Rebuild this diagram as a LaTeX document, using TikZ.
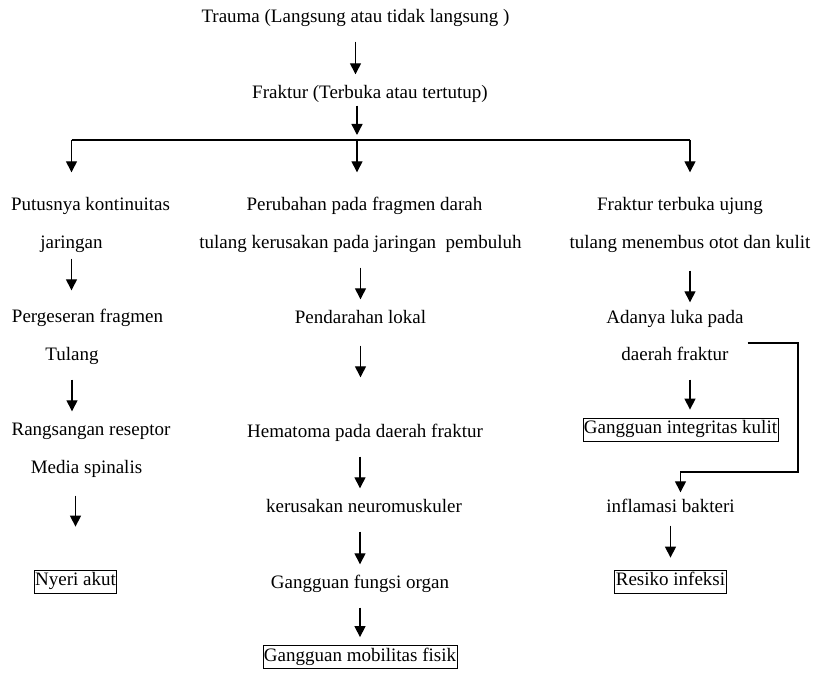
\documentclass[tikz,border=0pt]{standalone}
\usepackage{fontspec}
\setmainfont{Liberation Serif}
\usetikzlibrary{arrows.meta}
\tikzstyle{stage} =
        [
                text height = 13pt,
                text depth = 4pt,
                inner xsep = 1pt,
                inner ysep = 3pt
        ]
\tikzstyle{outcome} =
        [
                stage,
                draw,
                line width = 0.8pt
        ]
\tikzstyle{line} =
        [
                draw,
                line width = 1.4pt,
                -{Triangle[length = 11pt, width = 11pt]},
                shorten < = 12pt,
                shorten > = 8pt
        ]
\begin{document}
\begin{tikzpicture}[node distance = 38pt, font = \fontsize{19pt}{23pt}\selectfont]
        \useasboundingbox (0pt, 0pt) rectangle (815pt, 673pt);
        % tengah
        \node [stage] (trauma) at (355.5pt, 655pt) {Trauma (Langsung atau tidak langsung )};
        \node [stage, below of = trauma, node distance = 76pt, xshift = 14.5pt] (fraktur) {Fraktur (Terbuka atau tertutup)};
        \node [stage, below of = fraktur, node distance = 112pt, xshift = -5.5pt] (perubahan) {Perubahan pada fragmen darah};
        \node [stage, below of = perubahan, xshift = -4pt] (tulangk) {tulang kerusakan pada jaringan \ pembuluh};
        \node [stage, below of = tulangk, node distance = 75pt] (pendarahan) {Pendarahan lokal};
        \node [stage, below of = pendarahan, node distance = 114pt, xshift = 4.5pt] (hematoma) {Hematoma pada daerah fraktur};
        \node [stage, below of = hematoma, node distance = 75pt, xshift = -1pt] (kerusakan) {kerusakan neuromuskuler};
        \node [stage, below of = kerusakan, node distance = 76pt, xshift = -4pt] (fungsi) {Gangguan fungsi organ};
        \node [outcome, below of = fungsi, node distance = 73pt] (mobilitas) {Gangguan mobilitas fisik};
        % kiri
        \node [stage, left of = perubahan, node distance = 274pt] (putus) {Putusnya kontinuitas};
        \node [stage, below of = putus, xshift = -19pt] (jaringan) {jaringan};
        \node [stage, below of = jaringan, node distance = 74pt, xshift = 16pt] (pergeseran) {Pergeseran fragmen};
        \node [stage, below of = pergeseran, xshift = -15.5pt] (tulang) {Tulang};
        \node [stage, below of = tulang, node distance = 75pt, xshift = 19pt] (rangsangan) {Rangsangan reseptor};
        \node [stage, below of = rangsangan, xshift = -4.5pt] (media) {Media spinalis};
        \node [outcome, below of = media, node distance = 112.5pt, xshift = -11pt] (nyeri) {Nyeri akut};
        % kanan
        \node [stage, right of = perubahan, node distance = 315.5pt] (fterbuka) {Fraktur terbuka ujung};
        \node [stage, below of = fterbuka, xshift = 10pt] (menembus) {tulang menembus otot dan kulit};
        \node [stage, below of = menembus, node distance = 75pt, xshift = -15pt] (adanya) {Adanya luka pada};
        \node [stage, below of = adanya, node distance = 37pt] (daerah) {daerah fraktur};
        \node [outcome, below of = daerah, node distance = 73.5pt, xshift = 5.5pt] (integritas) {Gangguan integritas kulit};
        \node [stage, below of = integritas, node distance = 78.5pt, xshift = -10pt] (inflamasi) {inflamasi bakteri};
        \node [outcome, below of = inflamasi, node distance = 73.5pt] (resiko) {Resiko infeksi};

        \coordinate (bar) at (357pt, 533pt);
        \coordinate (turn) at (798pt, 201pt);

        \path [line] (trauma.south) -- (trauma.south |- fraktur.north);
        \path [line, shorten < = 0pt, shorten > = 5pt] (fraktur.south -| bar) -- (bar);
        \draw [line width = 1.4pt] (bar -| jaringan) -- (bar -| menembus);
        \path [line, shorten < = 0pt, shorten > = 22pt] (bar -| jaringan) -- (putus.north -| jaringan);
        \path [line, shorten < = 0pt, shorten > = 22pt] (bar) -- (perubahan.north -| bar);
        \path [line, shorten < = 0pt, shorten > = 22pt] (bar -| menembus) -- (fterbuka.north -| menembus);

        \path [line, shorten < = 3pt, shorten > = 16pt] (jaringan.south) -- (jaringan.south |- pergeseran.north);
        \path [line] (tulang.south) -- (tulang.south |- rangsangan.north);
        \path [line, shorten < = 15pt, shorten > = 43pt] (nyeri.north |- media.south) -- (nyeri.north);

        \path [line] (tulangk.south) -- (tulangk.south |- pendarahan.north);
        \path [line, shorten < = 15pt, shorten > = 44pt] (pendarahan.south) -- (pendarahan.south |- hematoma.north);
        \path [line] (hematoma.south -| fungsi) -- (kerusakan.north -| fungsi);
        \path [line] (kerusakan.south -| fungsi) -- (fungsi.north);
        \path [line] (fungsi.south) -- (mobilitas.north);

        \path [line, shorten < = 15pt, shorten > = 5pt] (menembus.south) -- (menembus.south |- adanya.north);
        \path [line] (daerah.south -| menembus) -- (integritas.north -| menembus);
        \path [line, shorten < = 0pt, shorten > = 4pt] ([xshift = 18pt, yshift = 13pt] daerah.east) -| (turn) -| (inflamasi.north -| integritas);
        \path [line, shorten < = 6pt, shorten > = 12pt] (inflamasi.south) -- (resiko.north);
\end{tikzpicture}
\end{document}
